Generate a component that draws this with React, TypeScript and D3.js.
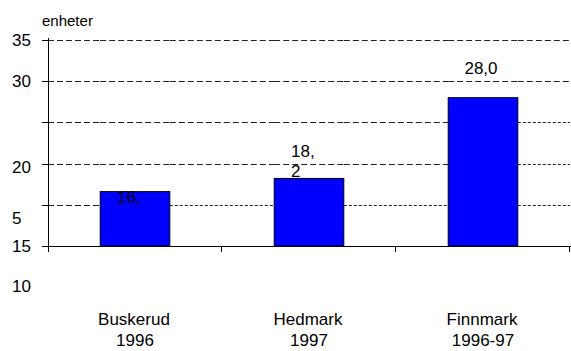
import React from "react";
import * as d3 from "d3";

// Counties and survey years shown under each bar
const regions = ["Buskerud", "Hedmark", "Finnmark"];
const years = ["1996", "1997", "1996-97"];
// Bar values (enheter)
const values = [16.6, 18.2, 28.0];
// Value labels as printed, broken over lines
const valueLabels = [["16,"], ["18,", "2"], ["28,0"]];
// Gridline values
const gridValues = [15, 20, 25, 30, 35];
// Y tick labels as printed, with the value each one sits at
const yTickLabels = ["35", "30", "20", "5", "15", "10"];
const yTickAt = [35, 30, 19.5, 13.3, 9.9, 5.1];

const W = 571;
const H = 351;
const FONT = "'Liberation Sans', Arial, sans-serif";
const FS = 17;

export default function App() {
  const y = d3.scaleLinear().domain([10, 35]).range([246, 40]);
  const x = d3.scaleBand<string>().domain(regions).range([48, 570]).padding(0);
  const bw = x.bandwidth() * 0.4;
  const barLeft = (r: string) => (x(r) as number) + x.bandwidth() / 2 - bw / 2;

  // Split each gridline at the bar edges so each stretch can carry its own dash style
  const edges: number[] = [48];
  regions.forEach((r) => {
    edges.push(barLeft(r), barLeft(r) + bw);
  });
  edges.push(570);
  // seg: 0..6 alternating gap / bar span, starting with the gap left of the first bar
  const dashFor = (v: number, seg: number) => {
    if (v === 15) return seg === 0 ? "6,3" : "3,2";
    if ((v === 20 || v === 25) && seg === 6) return "3,2";
    return "6,3";
  };

  return (
    <svg
      width={W}
      height={H}
      style={{ position: "absolute", left: 0, top: 0, background: "#fff" }}
      fontFamily={FONT}
    >
      <rect width={W} height={H} fill="#fff" />
      <text x={42} y={20} fontSize={15} dominantBaseline="central" fill="#000">
        enheter
      </text>

      {/* dashed gridlines */}
      {gridValues.map((v) =>
        d3.range(edges.length - 1).map((s) => (
          <line
            key={`${v}-${s}`}
            x1={edges[s]}
            x2={edges[s + 1]}
            y1={Math.round(y(v)) + 0.5}
            y2={Math.round(y(v)) + 0.5}
            stroke="#222"
            strokeWidth={1}
            strokeDasharray={dashFor(v, s)}
          />
        ))
      )}

      {/* bars */}
      {regions.map((r, i) => (
        <rect
          key={r}
          x={barLeft(r)}
          y={y(values[i])}
          width={bw}
          height={y(10) - y(values[i])}
          fill="#0000ff"
          stroke="#000"
          strokeWidth={1}
        />
      ))}

      {/* y axis */}
      <line x1={48.5} x2={48.5} y1={38} y2={252} stroke="#000" />
      {[10, ...gridValues].map((v) => (
        <line key={v} x1={42} x2={48} y1={Math.round(y(v)) + 0.5} y2={Math.round(y(v)) + 0.5} stroke="#000" />
      ))}
      {yTickLabels.map((t, i) => (
        <text key={i} x={12} y={y(yTickAt[i])} fontSize={FS} dominantBaseline="central" fill="#000">
          {t}
        </text>
      ))}

      {/* x axis */}
      <line x1={48} x2={571} y1={246.5} y2={246.5} stroke="#000" />
      {regions.map((r) => (
        <line
          key={r}
          x1={Math.round((x(r) as number) + x.bandwidth()) - 0.5}
          x2={Math.round((x(r) as number) + x.bandwidth()) - 0.5}
          y1={246}
          y2={252}
          stroke="#000"
        />
      ))}

      {/* value labels */}
      {valueLabels.map((lines, i) => {
        const cx = (x(regions[i]) as number) + x.bandwidth() / 2;
        const top = y(values[i]);
        if (i === 2) {
          return (
            <text key={i} x={cx - 2} y={top - 24} fontSize={FS} textAnchor="middle" fill="#000">
              {lines[0]}
            </text>
          );
        }
        const base = i === 0 ? top + 11 : top - 21;
        return (
          <text key={i} x={cx - 18} y={base} fontSize={FS} fill="#000">
            {lines.map((l, k) => (
              <tspan key={k} x={cx - 18} dy={k === 0 ? 0 : 20}>
                {l}
              </tspan>
            ))}
          </text>
        );
      })}

      {/* category labels */}
      {regions.map((r, i) => {
        const cx = (x(r) as number) + x.bandwidth() / 2;
        return (
          <g key={r} fontSize={FS} fill="#000" textAnchor="middle">
            <text x={cx - 1} y={325}>{r}</text>
            <text x={cx} y={346}>{years[i]}</text>
          </g>
        );
      })}
    </svg>
  );
}
